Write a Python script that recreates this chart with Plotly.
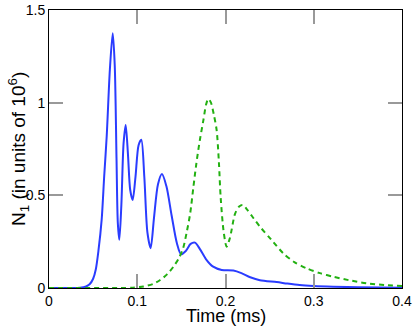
import plotly.graph_objects as go

# Blue solid series (time in ms, N1 in units of 1e6)
t_blue = [0, 0.02, 0.035, 0.042, 0.046, 0.05, 0.053, 0.056, 0.0597, 0.0625, 0.0654, 0.069,
          0.0722, 0.0745, 0.0765, 0.078, 0.0797, 0.082, 0.0845, 0.0869, 0.0895, 0.092, 0.0948,
          0.098, 0.1015, 0.1046, 0.108, 0.1115, 0.1152, 0.119, 0.1235, 0.128, 0.133, 0.139,
          0.145, 0.1496, 0.155, 0.1605, 0.1654, 0.171, 0.178, 0.186, 0.1957, 0.2089, 0.218,
          0.228, 0.239, 0.258, 0.27, 0.284, 0.3, 0.322, 0.35, 0.4]
n_blue = [0, 0, 0.001, 0.008, 0.02, 0.05, 0.1, 0.2, 0.37, 0.6, 0.82, 1.18,
          1.375, 1.2, 0.7, 0.35, 0.26, 0.45, 0.78, 0.88, 0.72, 0.53, 0.475,
          0.6, 0.77, 0.80, 0.6, 0.3, 0.215, 0.38, 0.56, 0.615, 0.55, 0.39,
          0.24, 0.182, 0.2, 0.238, 0.245, 0.21, 0.155, 0.115, 0.097, 0.094, 0.08,
          0.058, 0.042, 0.032, 0.024, 0.016, 0.011, 0.007, 0.004, 0.002]

# Green dashed series
t_green = [0, 0.08, 0.095, 0.107, 0.118, 0.126, 0.134, 0.141, 0.147, 0.152, 0.156, 0.16,
           0.1635, 0.167, 0.171, 0.175, 0.178, 0.1805, 0.1835, 0.187, 0.19, 0.1925, 0.1945,
           0.198, 0.2013, 0.205, 0.2108, 0.2155, 0.2195, 0.225, 0.232, 0.239, 0.252, 0.2655,
           0.278, 0.292, 0.307, 0.322, 0.34, 0.36, 0.38, 0.4]
n_green = [0, 0, 0.002, 0.008, 0.022, 0.043, 0.075, 0.115, 0.16, 0.215, 0.3, 0.403,
           0.54, 0.673, 0.8, 0.907, 0.99, 1.02, 1.0, 0.93, 0.85, 0.68, 0.49,
           0.3, 0.223, 0.27, 0.40, 0.44, 0.448, 0.42, 0.375, 0.331, 0.26, 0.187,
           0.14, 0.106, 0.08, 0.061, 0.042, 0.025, 0.016, 0.011]

x_ticks = [0, 0.1, 0.2, 0.3, 0.4]
x_labels = ["0", "0.1", "0.2", "0.3", "0.4"]
y_ticks = [0, 0.5, 1, 1.5]
y_labels = ["0", "0.5", "1", "1.5"]

fig = go.Figure()
fig.add_trace(go.Scatter(x=t_blue, y=n_blue, mode="lines",
                         line=dict(color="#2a3cff", width=2, shape="spline", smoothing=0.8)))
fig.add_trace(go.Scatter(x=t_green, y=n_green, mode="lines",
                         line=dict(color="#22b011", width=2, dash="5px,4px", shape="spline", smoothing=0.8)))

axis_common = dict(showgrid=False, zeroline=False, showline=True, linecolor="black", linewidth=1,
                   mirror="ticks", ticks="inside", ticklen=14, tickcolor="#999999", tickwidth=1.5,
                   tickfont=dict(size=14, color="black"), automargin=False)

fig.update_layout(
    width=415, height=327,
    margin=dict(l=49, r=13, t=10, b=39),
    paper_bgcolor="white", plot_bgcolor="white",
    showlegend=False,
    font=dict(family="Liberation Sans, Arial, sans-serif", color="black"),
    xaxis=dict(range=[0, 0.4], tickvals=x_ticks, ticktext=x_labels, **axis_common),
    yaxis=dict(range=[0, 1.5], tickvals=y_ticks, ticktext=y_labels, **axis_common),
    annotations=[
        dict(text="Time (ms)", xref="paper", yref="paper", x=0.5, y=0,
             xanchor="center", yanchor="middle", yshift=-28, showarrow=False,
             borderpad=0, font=dict(size=18)),
        dict(text="N<sub>1</sub> (in units of 10<sup>6</sup>)", xref="paper", yref="paper",
             x=0, y=0.5, xanchor="center", yanchor="middle", xshift=-31, textangle=-90,
             showarrow=False, borderpad=0, font=dict(size=19)),
    ],
)

fig.write_html("out.html", config={"displayModeBar": False},
               post_script="document.body.style.margin='0';document.body.style.padding='0';")
